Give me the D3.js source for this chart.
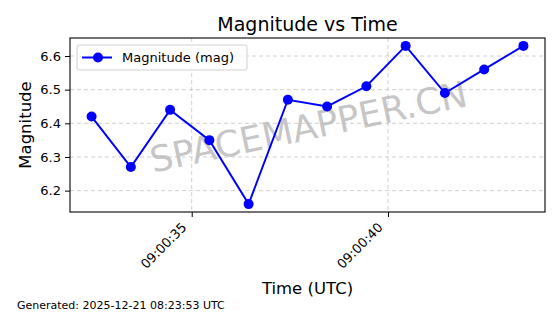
<!DOCTYPE html>
<html lang="en">
<head>
    <meta charset="UTF-8">
    <title>Magnitude vs Time</title>
    <script src="https://d3js.org/d3.v7.min.js"></script>
    <style>
        body {
            margin: 0;
            background-color: white;
            font-family: "DejaVu Sans", sans-serif;
        }
        svg { display: block; }
        .grid line { stroke: #b0b0b0; stroke-opacity: 0.6; stroke-dasharray: 4,3; }
    </style>
</head>
<body>
    <script>
        // Data
        const times = ["09:00:32.45", "09:00:33.45", "09:00:34.45", "09:00:35.45", "09:00:36.45", "09:00:37.45",
                       "09:00:38.45", "09:00:39.45", "09:00:40.45", "09:00:41.45", "09:00:42.45", "09:00:43.45"];
        const magnitudes = [6.42, 6.27, 6.44, 6.35, 6.16, 6.47, 6.45, 6.51, 6.63, 6.49, 6.56, 6.63];
        const yTicks = [6.2, 6.3, 6.4, 6.5, 6.6];

        const W = 560, H = 314;
        const margin = {top: 38, right: 15, bottom: 102, left: 70};
        const width = W - margin.left - margin.right;
        const height = H - margin.top - margin.bottom;

        const parse = d3.utcParse("%Y-%m-%d %H:%M:%S.%L");
        const data = times.map((t, i) => ({t: parse("2025-12-21 " + t + "0"), m: magnitudes[i]}));

        const svgRoot = d3.select("body").append("svg")
            .attr("width", W)
            .attr("height", H);
        const svg = svgRoot.append("g")
            .attr("transform", `translate(${margin.left},${margin.top})`);

        // 5% padding like matplotlib autoscale
        const tExt = d3.extent(data, d => d.t);
        const tPad = (tExt[1] - tExt[0]) * 0.05;
        const x = d3.scaleUtc()
            .domain([new Date(+tExt[0] - tPad), new Date(+tExt[1] + tPad)])
            .range([0, width]);

        const mExt = d3.extent(magnitudes);
        const mPad = (mExt[1] - mExt[0]) * 0.05;
        const y = d3.scaleLinear()
            .domain([mExt[0] - mPad, mExt[1] + mPad])
            .range([height, 0]);

        const xTicks = x.ticks(d3.utcSecond.every(5));

        // Grid
        svg.append("g").attr("class", "grid")
            .selectAll("line").data(yTicks).enter().append("line")
            .attr("x1", 0).attr("x2", width)
            .attr("y1", d => y(d)).attr("y2", d => y(d));
        svg.append("g").attr("class", "grid")
            .selectAll("line").data(xTicks).enter().append("line")
            .attr("y1", 0).attr("y2", height)
            .attr("x1", d => x(d)).attr("x2", d => x(d));

        // Watermark
        svg.append("text")
            .attr("transform", `translate(${width / 2 + 1},${height / 2 + 2}) rotate(-12)`)
            .attr("text-anchor", "middle")
            .attr("dominant-baseline", "central")
            .style("font-size", "36px")
            .style("fill", "#b4b4b4")
            .style("fill-opacity", 0.75)
            .text("SPACEMAPPER.CN");

        // Axes
        const xAxis = svg.append("g")
            .attr("transform", `translate(0,${height})`)
            .attr("font-family", "DejaVu Sans")
            .call(d3.axisBottom(x).tickValues(xTicks).tickFormat(d3.utcFormat("%H:%M:%S")).tickSizeOuter(0).tickSize(5));
        xAxis.attr("font-family", "DejaVu Sans");
        xAxis.selectAll("text")
            .style("font-size", "13px")
            .attr("fill", "black")
            .attr("text-anchor", "end")
            .attr("x", 0).attr("y", 0)
            .attr("dy", "0.35em")
            .attr("transform", "translate(-8,13) rotate(-45)");

        const yAxis = svg.append("g")
            .call(d3.axisLeft(y).tickValues(yTicks).tickFormat(d3.format(".1f")).tickSizeOuter(0).tickSize(5).tickPadding(4));
        yAxis.attr("font-family", "DejaVu Sans");
        yAxis.selectAll("text").style("font-size", "13px").attr("fill", "black");

        svg.selectAll(".domain").remove();
        svg.selectAll(".tick line").attr("stroke", "black");

        // Frame
        svg.append("rect")
            .attr("width", width).attr("height", height)
            .attr("fill", "none").attr("stroke", "black").attr("stroke-width", 1.1);

        // Line and markers
        const line = d3.line().x(d => x(d.t)).y(d => y(d.m));
        svg.append("path")
            .datum(data)
            .attr("fill", "none")
            .attr("stroke", "#0000ff")
            .attr("stroke-width", 2)
            .attr("d", line);
        svg.selectAll(".dot")
            .data(data).enter().append("circle")
            .attr("class", "dot")
            .attr("cx", d => x(d.t)).attr("cy", d => y(d.m))
            .attr("r", 5)
            .attr("fill", "#0000ff");

        // Legend
        const lg = svg.append("g").attr("transform", "translate(7,7)");
        lg.append("rect")
            .attr("width", 170).attr("height", 25).attr("rx", 2)
            .attr("fill", "white").attr("fill-opacity", 0.8)
            .attr("stroke", "#d0d0d0");
        lg.append("line")
            .attr("x1", 5).attr("x2", 35).attr("y1", 12.5).attr("y2", 12.5)
            .attr("stroke", "#0000ff").attr("stroke-width", 2);
        lg.append("circle").attr("cx", 21).attr("cy", 12.5).attr("r", 5).attr("fill", "#0000ff");
        lg.append("text")
            .attr("x", 45).attr("y", 12.5).attr("dy", "0.35em")
            .style("font-size", "13px")
            .text("Magnitude (mag)");

        // Titles
        svgRoot.append("text")
            .attr("x", margin.left + width / 2).attr("y", 31)
            .attr("text-anchor", "middle")
            .style("font-size", "19px")
            .text("Magnitude vs Time");
        svgRoot.append("text")
            .attr("transform", `translate(31,${margin.top + height / 2}) rotate(-90)`)
            .attr("text-anchor", "middle")
            .style("font-size", "16.5px")
            .text("Magnitude");
        svgRoot.append("text")
            .attr("x", margin.left + width / 2).attr("y", 294)
            .attr("text-anchor", "middle")
            .style("font-size", "16.5px")
            .text("Time (UTC)");
        svgRoot.append("text")
            .attr("x", 17).attr("y", 309)
            .style("font-size", "11px")
            .text("Generated: 2025-12-21 08:23:53 UTC");
    </script>
</body>
</html>
